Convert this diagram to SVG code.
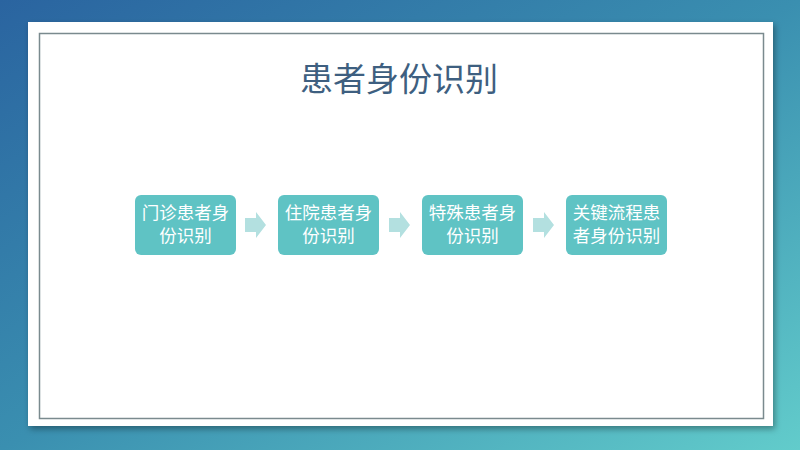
<svg xmlns="http://www.w3.org/2000/svg" width="800" height="450" viewBox="0 0 800 450">
<defs>
<linearGradient id="bg" x1="0" y1="0" x2="1" y2="1">
<stop offset="0" stop-color="#2a64a0"/>
<stop offset="0.5" stop-color="#3a8fb0"/>
<stop offset="1" stop-color="#62cccb"/>
</linearGradient>
<filter id="sh" x="-5%" y="-5%" width="110%" height="115%">
<feDropShadow dx="2" dy="3" stdDeviation="3" flood-color="#000" flood-opacity="0.35"/>
</filter>
<path id="arr" d="M0,-7 H11 V-13 L21,0 L11,13 V7 H0 Z"/>
</defs>
<style>
.box{fill:#5fc3c4;}
.lbl{font-family:"Noto Sans CJK SC","Liberation Sans",sans-serif;font-size:17.5px;fill:#ffffff;text-anchor:middle;}
.arrow{fill:#b3e0e0;}
</style>
<rect width="800" height="450" fill="url(#bg)"/>
<rect x="28" y="22" width="745" height="404" fill="#ffffff" filter="url(#sh)"/>
<rect x="39.5" y="33.5" width="724" height="385" fill="none" stroke="#7a8a8e" stroke-width="1.5"/>
<text x="399" y="91" font-family="Noto Sans CJK SC,Liberation Sans,sans-serif" font-size="33" fill="#3e5f80" text-anchor="middle">患者身份识别</text>
<g id="connectors">
<use href="#arr" class="arrow" x="245" y="225"/>
<use href="#arr" class="arrow" x="389" y="225"/>
<use href="#arr" class="arrow" x="533" y="225"/>
</g>
<g id="n1"><rect class="box" x="135" y="195" width="101" height="60" rx="6"/><text class="lbl" x="185.5" y="219">门诊患者身</text><text class="lbl" x="185.5" y="242">份识别</text></g>
<g id="n2"><rect class="box" x="278" y="195" width="101" height="60" rx="6"/><text class="lbl" x="328.5" y="219">住院患者身</text><text class="lbl" x="328.5" y="242">份识别</text></g>
<g id="n3"><rect class="box" x="422" y="195" width="101" height="60" rx="6"/><text class="lbl" x="472.5" y="219">特殊患者身</text><text class="lbl" x="472.5" y="242">份识别</text></g>
<g id="n4"><rect class="box" x="566" y="195" width="101" height="60" rx="6"/><text class="lbl" x="616.5" y="219">关键流程患</text><text class="lbl" x="616.5" y="242">者身份识别</text></g>
</svg>
